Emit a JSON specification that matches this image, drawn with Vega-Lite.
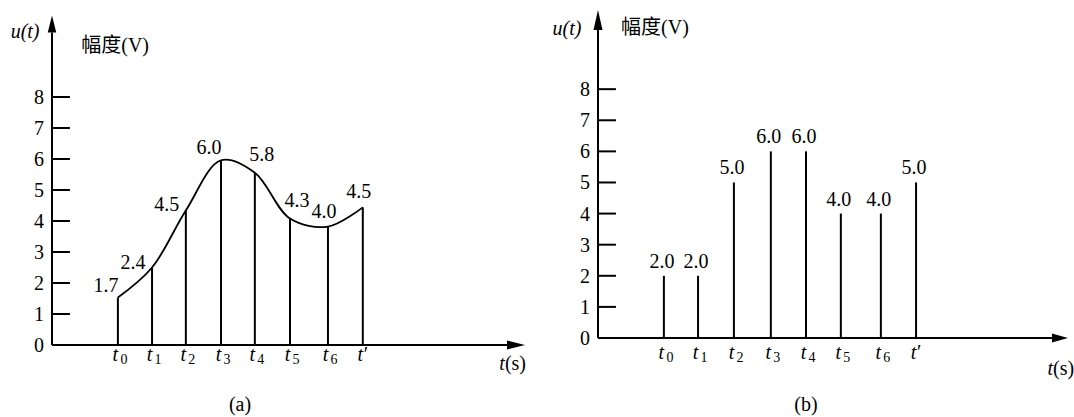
{
  "$schema": "https://vega.github.io/schema/vega-lite/v6.json",
  "autosize": {"type": "pad"},
  "padding": {"left": 10, "top": 10, "right": 0, "bottom": 0},
  "background": "white",
  "spacing": 91,
  "bounds": "flush",
  "config": {"view": {"stroke": null}, "font": "Liberation Serif", "text": {"font": "Liberation Serif", "color": "black"}},
  "datasets": {
    "stemsA": [
      {"t": 1.91, "v": 1.53, "label": "1.7", "sub": "0"},
      {"t": 2.90, "v": 2.50, "label": "2.4", "sub": "1"},
      {"t": 3.88, "v": 4.34, "label": "4.5", "sub": "2"},
      {"t": 4.90, "v": 5.96, "label": "6.0", "sub": "3"},
      {"t": 5.88, "v": 5.56, "label": "5.8", "sub": "4"},
      {"t": 6.90, "v": 4.08, "label": "4.3", "sub": "5"},
      {"t": 8.00, "v": 3.82, "label": "4.0", "sub": "6"},
      {"t": 9.01, "v": 4.44, "label": "4.5", "sub": "′"}
    ],
    "stemsB": [
      {"t": 1.91, "v": 2, "label": "2.0", "sub": "0"},
      {"t": 2.90, "v": 2, "label": "2.0", "sub": "1"},
      {"t": 3.94, "v": 5, "label": "5.0", "sub": "2"},
      {"t": 5.01, "v": 6, "label": "6.0", "sub": "3"},
      {"t": 6.03, "v": 6, "label": "6.0", "sub": "4"},
      {"t": 7.04, "v": 4, "label": "4.0", "sub": "5"},
      {"t": 8.20, "v": 4, "label": "4.0", "sub": "6"},
      {"t": 9.22, "v": 5, "label": "5.0", "sub": "′"}
    ],
    "yticks": [
      {"y": 0, "lbl": "0"}, {"y": 1, "lbl": "1"}, {"y": 2, "lbl": "2"}, {"y": 3, "lbl": "3"}, {"y": 4, "lbl": "4"},
      {"y": 5, "lbl": "5"}, {"y": 6, "lbl": "6"}, {"y": 7, "lbl": "7"}, {"y": 8, "lbl": "8"}
    ],
    "one": [{}]
  },
  "hconcat": [
    {
      "width": 455,
      "height": 314,
      "layer": [
        {
          "data": {"name": "stemsA"},
          "mark": {"type": "rule", "color": "black", "strokeWidth": 2},
          "encoding": {
            "x": {"field": "t", "type": "quantitative", "scale": {"domain": [0, 13.19], "nice": false}, "axis": null},
            "y": {"field": "v", "type": "quantitative", "scale": {"domain": [0, 10.13], "nice": false}, "axis": null},
            "y2": {"datum": 0}
          }
        },
        {
          "data": {"name": "stemsA"},
          "mark": {"type": "line", "color": "black", "strokeWidth": 1.8, "interpolate": "catmull-rom"},
          "encoding": {
            "x": {"field": "t", "type": "quantitative", "axis": null},
            "y": {"field": "v", "type": "quantitative", "axis": null}
          }
        },
        {
          "data": {"name": "yticks"},
          "transform": [{"filter": "datum.y > 0"}],
          "mark": {"type": "rule", "color": "black", "strokeWidth": 2},
          "encoding": {
            "x": {"datum": 0, "type": "quantitative", "axis": null},
            "x2": {"datum": 0.52},
            "y": {"field": "y", "type": "quantitative", "axis": null}
          }
        },
        {
          "data": {"name": "yticks"},
          "mark": {"type": "text", "fontSize": 20, "align": "right", "baseline": "middle", "dx": -8, "dy": 1},
          "encoding": {
            "x": {"datum": 0, "type": "quantitative", "axis": null},
            "y": {"field": "y", "type": "quantitative", "axis": null},
            "text": {"field": "lbl"}
          }
        },
        {
          "data": {"name": "one"},
          "mark": {"type": "rule", "color": "black", "strokeWidth": 2},
          "encoding": {
            "x": {"datum": 0, "type": "quantitative", "axis": null},
            "x2": {"datum": 13.19},
            "y": {"datum": 0, "type": "quantitative", "axis": null}
          }
        },
        {
          "data": {"name": "one"},
          "mark": {"type": "rule", "color": "black", "strokeWidth": 2},
          "encoding": {
            "x": {"datum": 0, "type": "quantitative", "axis": null},
            "y": {"datum": 0, "type": "quantitative", "axis": null},
            "y2": {"datum": 10.08}
          }
        },
        {
          "data": {"name": "one"},
          "mark": {"type": "point", "shape": "M0,-0.5L2,0L0,0.5Z", "size": 324, "filled": true, "color": "black", "opacity": 1, "strokeWidth": 0},
          "encoding": {
            "x": {"datum": 13.19, "type": "quantitative", "axis": null},
            "y": {"datum": 0, "type": "quantitative", "axis": null}
          }
        },
        {
          "data": {"name": "one"},
          "mark": {"type": "point", "shape": "M-0.5,0L0,-2L0.5,0Z", "size": 289, "filled": true, "color": "black", "opacity": 1, "strokeWidth": 0},
          "encoding": {
            "x": {"datum": 0, "type": "quantitative", "axis": null},
            "y": {"datum": 10.08, "type": "quantitative", "axis": null}
          }
        },
        {
          "data": {"name": "one"},
          "mark": {"type": "text", "text": "u(t)", "fontStyle": "italic", "fontSize": 20, "align": "center", "baseline": "middle"},
          "encoding": {
            "x": {"datum": -0.78, "type": "quantitative", "axis": null},
            "y": {"datum": 10.11, "type": "quantitative", "axis": null}
          }
        },
        {
          "data": {"name": "one"},
          "mark": {"type": "text", "text": "幅度(V)", "font": "Liberation Serif, Noto Sans CJK SC", "fontSize": 20, "align": "center", "baseline": "middle"},
          "encoding": {
            "x": {"datum": 1.83, "type": "quantitative", "axis": null},
            "y": {"datum": 9.66, "type": "quantitative", "axis": null}
          }
        },
        {
          "data": {"name": "one"},
          "mark": {"type": "text", "text": "t", "fontStyle": "italic", "fontSize": 20, "align": "right", "baseline": "middle"},
          "encoding": {
            "x": {"datum": 13.13, "type": "quantitative", "axis": null},
            "y": {"datum": -0.6, "type": "quantitative", "axis": null}
          }
        },
        {
          "data": {"name": "one"},
          "mark": {"type": "text", "text": "(s)", "fontSize": 20, "align": "left", "baseline": "middle"},
          "encoding": {
            "x": {"datum": 13.13, "type": "quantitative", "axis": null},
            "y": {"datum": -0.6, "type": "quantitative", "axis": null}
          }
        },
        {
          "data": {"name": "one"},
          "mark": {"type": "text", "text": "(a)", "fontSize": 20, "align": "center", "baseline": "middle"},
          "encoding": {
            "x": {"datum": 5.45, "type": "quantitative", "axis": null},
            "y": {"datum": -1.95, "type": "quantitative", "axis": null}
          }
        },
        {
          "data": {"name": "stemsA"},
          "transform": [{"filter": "datum.sub == '0' || datum.sub == '3'"}],
          "mark": {"type": "text", "fontSize": 20, "align": "center", "baseline": "middle", "dx": -12, "dy": -12},
          "encoding": {
            "x": {"field": "t", "type": "quantitative", "axis": null},
            "y": {"field": "v", "type": "quantitative", "axis": null},
            "text": {"field": "label"}
          }
        },
        {
          "data": {"name": "stemsA"},
          "transform": [{"filter": "datum.sub == '1' || datum.sub == '2'"}],
          "mark": {"type": "text", "fontSize": 20, "align": "center", "baseline": "middle", "dx": -19, "dy": -5},
          "encoding": {
            "x": {"field": "t", "type": "quantitative", "axis": null},
            "y": {"field": "v", "type": "quantitative", "axis": null},
            "text": {"field": "label"}
          }
        },
        {
          "data": {"name": "stemsA"},
          "transform": [{"filter": "datum.sub == '4' || datum.sub == '5'"}],
          "mark": {"type": "text", "fontSize": 20, "align": "center", "baseline": "middle", "dx": 7, "dy": -18},
          "encoding": {
            "x": {"field": "t", "type": "quantitative", "axis": null},
            "y": {"field": "v", "type": "quantitative", "axis": null},
            "text": {"field": "label"}
          }
        },
        {
          "data": {"name": "stemsA"},
          "transform": [{"filter": "datum.sub == '6' || datum.sub == '′'"}],
          "mark": {"type": "text", "fontSize": 20, "align": "center", "baseline": "middle", "dx": -4, "dy": -15},
          "encoding": {
            "x": {"field": "t", "type": "quantitative", "axis": null},
            "y": {"field": "v", "type": "quantitative", "axis": null},
            "text": {"field": "label"}
          }
        },
        {
          "data": {"name": "stemsA"},
          "mark": {"type": "text", "text": "t", "fontStyle": "italic", "fontSize": 20, "align": "center", "baseline": "alphabetic", "dx": -2.5, "dy": 16},
          "encoding": {
            "x": {"field": "t", "type": "quantitative", "axis": null},
            "y": {"datum": 0, "type": "quantitative", "axis": null}
          }
        },
        {
          "data": {"name": "stemsA"},
          "transform": [{"filter": "datum.sub != '′'"}],
          "mark": {"type": "text", "fontSize": 14, "align": "left", "baseline": "alphabetic", "dx": 2.5, "dy": 19},
          "encoding": {
            "x": {"field": "t", "type": "quantitative", "axis": null},
            "y": {"datum": 0, "type": "quantitative", "axis": null},
            "text": {"field": "sub"}
          }
        },
        {
          "data": {"name": "stemsA"},
          "transform": [{"filter": "datum.sub == '′'"}],
          "mark": {"type": "text", "fontSize": 20, "align": "left", "baseline": "alphabetic", "dx": 1, "dy": 16},
          "encoding": {
            "x": {"field": "t", "type": "quantitative", "axis": null},
            "y": {"datum": 0, "type": "quantitative", "axis": null},
            "text": {"field": "sub"}
          }
        }
      ]
    },
    {
      "width": 455,
      "height": 307,
      "layer": [
        {
          "data": {"name": "stemsB"},
          "mark": {"type": "rule", "color": "black", "strokeWidth": 2},
          "encoding": {
            "x": {"field": "t", "type": "quantitative", "scale": {"domain": [0, 13.19], "nice": false}, "axis": null},
            "y": {"field": "v", "type": "quantitative", "scale": {"domain": [0, 9.87], "nice": false}, "axis": null},
            "y2": {"datum": 0}
          }
        },
        {
          "data": {"name": "yticks"},
          "transform": [{"filter": "datum.y > 0"}],
          "mark": {"type": "rule", "color": "black", "strokeWidth": 2},
          "encoding": {
            "x": {"datum": 0, "type": "quantitative", "axis": null},
            "x2": {"datum": 0.52},
            "y": {"field": "y", "type": "quantitative", "axis": null}
          }
        },
        {
          "data": {"name": "yticks"},
          "mark": {"type": "text", "fontSize": 20, "align": "right", "baseline": "middle", "dx": -8, "dy": 1},
          "encoding": {
            "x": {"datum": 0, "type": "quantitative", "axis": null},
            "y": {"field": "y", "type": "quantitative", "axis": null},
            "text": {"field": "lbl"}
          }
        },
        {
          "data": {"name": "one"},
          "mark": {"type": "rule", "color": "black", "strokeWidth": 2},
          "encoding": {
            "x": {"datum": 0, "type": "quantitative", "axis": null},
            "x2": {"datum": 13.16},
            "y": {"datum": 0, "type": "quantitative", "axis": null}
          }
        },
        {
          "data": {"name": "one"},
          "mark": {"type": "rule", "color": "black", "strokeWidth": 2},
          "encoding": {
            "x": {"datum": 0, "type": "quantitative", "axis": null},
            "y": {"datum": 0, "type": "quantitative", "axis": null},
            "y2": {"datum": 9.9}
          }
        },
        {
          "data": {"name": "one"},
          "mark": {"type": "point", "shape": "M0,-0.55L2,0L0,0.55Z", "size": 256, "filled": true, "color": "black", "opacity": 1, "strokeWidth": 0},
          "encoding": {
            "x": {"datum": 13.16, "type": "quantitative", "axis": null},
            "y": {"datum": 0, "type": "quantitative", "axis": null}
          }
        },
        {
          "data": {"name": "one"},
          "mark": {"type": "point", "shape": "M-0.45,0L0,-2L0.45,0Z", "size": 400, "filled": true, "color": "black", "opacity": 1, "strokeWidth": 0},
          "encoding": {
            "x": {"datum": 0, "type": "quantitative", "axis": null},
            "y": {"datum": 9.9, "type": "quantitative", "axis": null}
          }
        },
        {
          "data": {"name": "one"},
          "mark": {"type": "text", "text": "u(t)", "fontStyle": "italic", "fontSize": 20, "align": "center", "baseline": "middle"},
          "encoding": {
            "x": {"datum": -0.9, "type": "quantitative", "axis": null},
            "y": {"datum": 9.94, "type": "quantitative", "axis": null}
          }
        },
        {
          "data": {"name": "one"},
          "mark": {"type": "text", "text": "幅度(V)", "font": "Liberation Serif, Noto Sans CJK SC", "fontSize": 20, "align": "center", "baseline": "middle"},
          "encoding": {
            "x": {"datum": 1.65, "type": "quantitative", "axis": null},
            "y": {"datum": 9.97, "type": "quantitative", "axis": null}
          }
        },
        {
          "data": {"name": "one"},
          "mark": {"type": "text", "text": "t", "fontStyle": "italic", "fontSize": 20, "align": "right", "baseline": "middle"},
          "encoding": {
            "x": {"datum": 13.19, "type": "quantitative", "axis": null},
            "y": {"datum": -1.0, "type": "quantitative", "axis": null}
          }
        },
        {
          "data": {"name": "one"},
          "mark": {"type": "text", "text": "(s)", "fontSize": 20, "align": "left", "baseline": "middle"},
          "encoding": {
            "x": {"datum": 13.19, "type": "quantitative", "axis": null},
            "y": {"datum": -1.0, "type": "quantitative", "axis": null}
          }
        },
        {
          "data": {"name": "one"},
          "mark": {"type": "text", "text": "(b)", "fontSize": 20, "align": "center", "baseline": "middle"},
          "encoding": {
            "x": {"datum": 6.03, "type": "quantitative", "axis": null},
            "y": {"datum": -2.15, "type": "quantitative", "axis": null}
          }
        },
        {
          "data": {"name": "stemsB"},
          "mark": {"type": "text", "fontSize": 20, "align": "center", "baseline": "middle", "dx": -2, "dy": -14},
          "encoding": {
            "x": {"field": "t", "type": "quantitative", "axis": null},
            "y": {"field": "v", "type": "quantitative", "axis": null},
            "text": {"field": "label"}
          }
        },
        {
          "data": {"name": "stemsB"},
          "mark": {"type": "text", "text": "t", "fontStyle": "italic", "fontSize": 20, "align": "center", "baseline": "alphabetic", "dx": -2.5, "dy": 21},
          "encoding": {
            "x": {"field": "t", "type": "quantitative", "axis": null},
            "y": {"datum": 0, "type": "quantitative", "axis": null}
          }
        },
        {
          "data": {"name": "stemsB"},
          "transform": [{"filter": "datum.sub != '′'"}],
          "mark": {"type": "text", "fontSize": 14, "align": "left", "baseline": "alphabetic", "dx": 2.5, "dy": 24},
          "encoding": {
            "x": {"field": "t", "type": "quantitative", "axis": null},
            "y": {"datum": 0, "type": "quantitative", "axis": null},
            "text": {"field": "sub"}
          }
        },
        {
          "data": {"name": "stemsB"},
          "transform": [{"filter": "datum.sub == '′'"}],
          "mark": {"type": "text", "fontSize": 20, "align": "left", "baseline": "alphabetic", "dx": 1, "dy": 21},
          "encoding": {
            "x": {"field": "t", "type": "quantitative", "axis": null},
            "y": {"datum": 0, "type": "quantitative", "axis": null},
            "text": {"field": "sub"}
          }
        }
      ]
    }
  ]
}
